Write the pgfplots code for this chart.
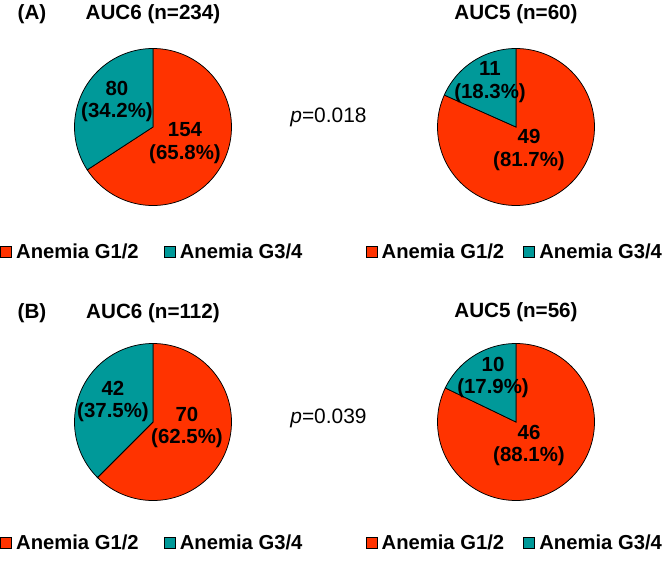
\documentclass[border=0pt]{standalone}
\usepackage{fontspec}
\setmainfont{Liberation Sans}
\usepackage{pgfplots}
\pgfplotsset{compat=1.18}
\definecolor{g12}{RGB}{255,51,0}
\definecolor{g34}{RGB}{0,153,153}

% counts: Anemia G1/2, Anemia G3/4
\def\AsixA{154}\def\AsixB{80}
\def\AfivA{49}\def\AfivB{11}
\def\BsixA{70}\def\BsixB{42}
\def\BfivA{46}\def\BfivB{10}
\pgfmathsetmacro\angAs{90+360*(\AsixB/(\AsixA+\AsixB))}
\pgfmathsetmacro\angAf{90+360*(\AfivB/(\AfivA+\AfivB))}
\pgfmathsetmacro\angBs{90+360*(\BsixB/(\BsixA+\BsixB))}
\pgfmathsetmacro\angBf{90+360*(\BfivB/(\BfivA+\BfivB))}

\tikzset{
  lab/.style={font=\fontsize{20.5}{23}\selectfont\bfseries, align=center, inner sep=0pt},
  ttl/.style={font=\fontsize{20.7}{24}\selectfont\bfseries, inner sep=0pt},
  pv/.style={font=\fontsize{21}{24}\selectfont, inner sep=0pt},
}
\pgfplotsset{
  pieax/.style={
    scale only axis, width=157bp, height=157bp,
    xmin=-78.5, xmax=78.5, ymin=-78.5, ymax=78.5,
    hide axis, clip=false, anchor=center,
    legend columns=2,
    legend style={draw=none, fill=none, inner sep=0pt, outer sep=0pt, anchor=west,
      font=\fontsize{20.3}{24}\selectfont\bfseries,
      nodes={inner sep=0pt},
      /tikz/every even column/.append style={column sep=25bp}},
    legend image code/.code={\draw[##1, line width=0.6bp] (0.5bp,-5.5bp) rectangle (11.5bp,5.5bp); \path (16bp,0bp);},
  },
  slice/.style={draw=black, line width=0.75bp, samples=120},
  rightleg/.style={legend style={/tikz/every even column/.append style={column sep=19bp}}},
}

\begin{document}
\begin{tikzpicture}
\useasboundingbox (0,0) rectangle (662bp,-561bp);

% (A) AUC6
\begin{axis}[pieax, at={(153bp,-127bp)}, legend style={at={(-0.4745,-0.296)}}]
\addplot[slice, fill=g12, domain=\angAs:450] ({78.5*cos(x)},{78.5*sin(x)}) -- (axis cs:0,0) -- cycle;
\addplot[slice, fill=g34, domain=90:\angAs] ({78.5*cos(x)},{78.5*sin(x)}) -- (axis cs:0,0) -- cycle;
\legend{Anemia G1/2, Anemia G3/4}
\node[lab] at (axis cs:-36,25.5) {80\\(34.2\%)};
\node[lab] at (axis cs:32,-16.5) {154\\(65.8\%)};
\node[ttl] at (axis cs:0,113) {AUC6 (n=234)};
\node[ttl] at (axis cs:-121,113) {(A)};
\node[pv] at (axis cs:175.5,10) {\textit{p}=0.018};
\end{axis}

% (A) AUC5
\begin{axis}[pieax, rightleg, at={(516bp,-127bp)}, legend style={at={(-0.4586,-0.296)}}]
\addplot[slice, fill=g12, domain=\angAf:450] ({78.5*cos(x)},{78.5*sin(x)}) -- (axis cs:0,0) -- cycle;
\addplot[slice, fill=g34, domain=90:\angAf] ({78.5*cos(x)},{78.5*sin(x)}) -- (axis cs:0,0) -- cycle;
\legend{Anemia G1/2, Anemia G3/4}
\node[lab] at (axis cs:-26,44.5) {11\\(18.3\%)};
\node[lab] at (axis cs:13,-23) {49\\(81.7\%)};
\node[ttl] at (axis cs:0,113) {AUC5 (n=60)};
\end{axis}

% (B) AUC6
\begin{axis}[pieax, at={(153bp,-422bp)}, legend style={at={(-0.4745,-0.271)}}]
\addplot[slice, fill=g12, domain=\angBs:450] ({78.5*cos(x)},{78.5*sin(x)}) -- (axis cs:0,0) -- cycle;
\addplot[slice, fill=g34, domain=90:\angBs] ({78.5*cos(x)},{78.5*sin(x)}) -- (axis cs:0,0) -- cycle;
\legend{Anemia G1/2, Anemia G3/4}
\node[lab] at (axis cs:-40,20.5) {42\\(37.5\%)};
\node[lab] at (axis cs:34,-5.5) {70\\(62.5\%)};
\node[ttl] at (axis cs:0,109) {AUC6 (n=112)};
\node[ttl] at (axis cs:-121,109) {(B)};
\node[pv] at (axis cs:175.5,4) {\textit{p}=0.039};
\end{axis}

% (B) AUC5
\begin{axis}[pieax, rightleg, at={(516bp,-422bp)}, legend style={at={(-0.4586,-0.271)}}]
\addplot[slice, fill=g12, domain=\angBf:450] ({78.5*cos(x)},{78.5*sin(x)}) -- (axis cs:0,0) -- cycle;
\addplot[slice, fill=g34, domain=90:\angBf] ({78.5*cos(x)},{78.5*sin(x)}) -- (axis cs:0,0) -- cycle;
\legend{Anemia G1/2, Anemia G3/4}
\node[lab] at (axis cs:-23,44.5) {10\\(17.9\%)};
\node[lab] at (axis cs:13,-23.5) {46\\(88.1\%)};
\node[ttl] at (axis cs:0,110) {AUC5 (n=56)};
\end{axis}
\end{tikzpicture}
\end{document}
